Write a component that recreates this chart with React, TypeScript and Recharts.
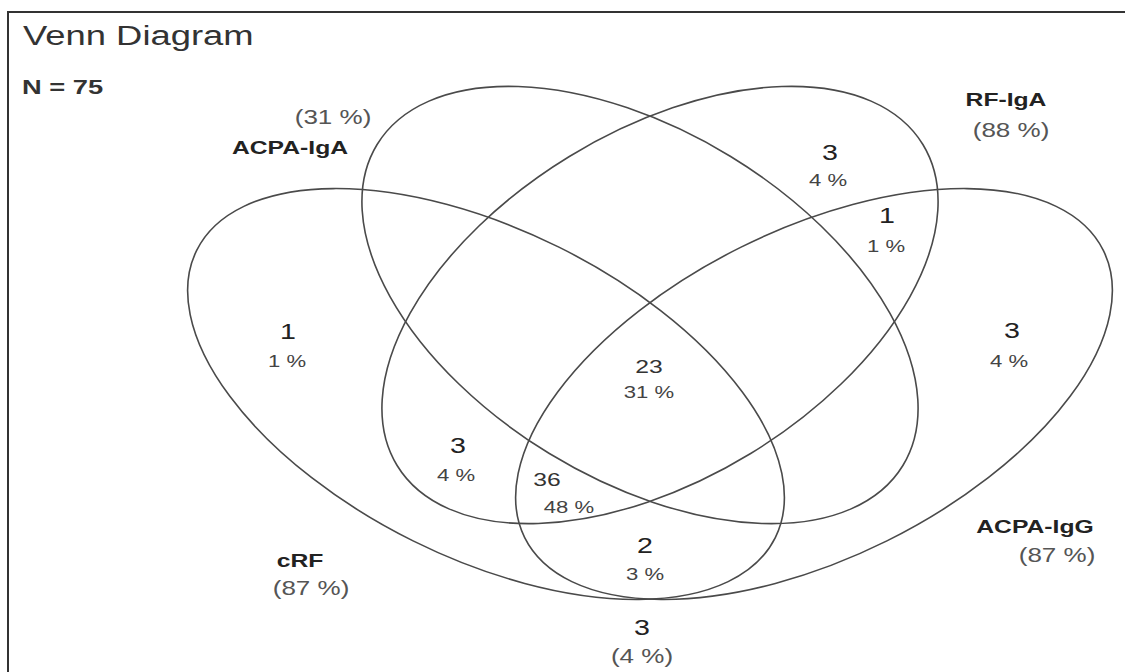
import React from 'react';
import { ScatterChart, Scatter, XAxis, YAxis } from 'recharts';

const W = 1125;
const H = 672;

// the four sets, ellipse geometry (pixel units)
const setNames = ['cRF', 'ACPA-IgA', 'RF-IgA', 'ACPA-IgG'];
const setPercents = [87, 31, 88, 87];
const centerX = [486, 640, 660, 814];
const centerY = [394, 305, 305, 394];
const semiMajor = [323, 308, 308, 323];
const semiMinor = [164, 174, 174, 164];
const tilt = [26.4, 31.4, -31.4, -26.4];

const nameXY = [[300, 567], [290, 154], [1006, 106], [1035, 533]];
const setPctXY = [[311, 595], [333, 124], [1011, 137], [1057, 562]];

// region counts
const regionCounts = [1, 3, 1, 3, 23, 3, 36, 2, 3];
const regionPercents = ['1 %', '4 %', '1 %', '4 %', '31 %', '4 %', '48 %', '3 %', '(4 %)'];
const countXY = [[288, 339], [830, 160], [887, 223], [1012, 338], [649, 373], [458, 453], [547, 486], [645, 553], [642, 635]];
const pctXY = [[287, 367], [828, 186], [886, 252], [1009, 367], [649, 398], [456, 481], [569, 513], [645, 580], [642, 663]];

const total = 75;

const ellipses = setNames.map((name, i) => ({
  name,
  x: centerX[i],
  y: centerY[i],
  a: semiMajor[i],
  b: semiMinor[i],
  angle: tilt[i],
}));

const labels = [
  { x: 23, y: 45, text: 'Venn Diagram', kind: 'title' },
  { x: 22, y: 94, text: `N = ${total}`, kind: 'n' },
  ...setNames.map((n, i) => ({ x: nameXY[i][0], y: nameXY[i][1], text: n, kind: 'name' })),
  ...setPercents.map((p, i) => ({ x: setPctXY[i][0], y: setPctXY[i][1], text: `(${p} %)`, kind: 'paren' })),
  ...regionCounts.map((c, i) => ({ x: countXY[i][0], y: countXY[i][1], text: String(c), kind: c > 9 ? 'countSmall' : 'count' })),
  ...regionPercents.map((p, i) => ({ x: pctXY[i][0], y: pctXY[i][1], text: p, kind: p.startsWith('(') ? 'paren' : 'pct' })),
];

const FONT = '"Liberation Sans", Arial, sans-serif';
const STRETCH = 1.3;

const styles: Record<string, any> = {
  title: { size: 28, weight: 400, fill: '#333', anchor: 'start' },
  n: { size: 21, weight: 700, fill: '#333', anchor: 'start' },
  name: { size: 19, weight: 700, fill: '#222', anchor: 'middle' },
  paren: { size: 20, weight: 400, fill: '#555', anchor: 'middle' },
  count: { size: 22, weight: 400, fill: '#222', anchor: 'middle' },
  countSmall: { size: 19, weight: 400, fill: '#333', anchor: 'middle' },
  pct: { size: 17, weight: 400, fill: '#444', anchor: 'middle' },
};

const kx = W / W;
const ky = H / H;

const EllipseShape = (props: any) => {
  const { cx, cy, payload } = props;
  return (
    <ellipse
      cx={cx}
      cy={cy}
      rx={payload.a * kx}
      ry={payload.b * ky}
      transform={`rotate(${payload.angle} ${cx} ${cy})`}
      fill="none"
      stroke="#4a4a4a"
      strokeWidth={1.6}
    />
  );
};

const LabelShape = (props: any) => {
  const { cx, cy, payload } = props;
  const s = styles[payload.kind];
  return (
    <text
      x={0}
      y={0}
      transform={`translate(${cx},${cy}) scale(${STRETCH},1)`}
      textAnchor={s.anchor}
      fontFamily={FONT}
      fontSize={s.size}
      fontWeight={s.weight}
      fill={s.fill}
    >
      {payload.text}
    </text>
  );
};

export default function App() {
  return (
    <div style={{ position: 'absolute', left: 0, top: 0, width: W, height: H, overflow: 'hidden', background: '#fff' }}>
      <div
        style={{
          position: 'absolute',
          left: 7,
          top: 11,
          width: W,
          height: H,
          borderTop: '2px solid #333',
          borderLeft: '2px solid #333',
        }}
      />
      <div style={{ position: 'absolute', left: 0, top: 0 }}>
        <ScatterChart width={W} height={H} margin={{ top: 0, right: 0, bottom: 0, left: 0 }}>
          <XAxis type="number" dataKey="x" domain={[0, W]} allowDataOverflow hide />
          <YAxis type="number" dataKey="y" domain={[0, H]} allowDataOverflow reversed hide />
          <Scatter data={ellipses} shape={EllipseShape} isAnimationActive={false} />
          <Scatter data={labels} shape={LabelShape} isAnimationActive={false} />
        </ScatterChart>
      </div>
    </div>
  );
}
